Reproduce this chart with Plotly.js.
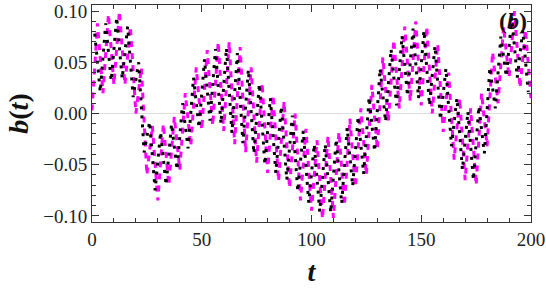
<!DOCTYPE html>
<html>
<head>
<meta charset="utf-8">
<script src="https://cdn.plot.ly/plotly-3.0.1.min.js"></script>
<style>html,body{margin:0;padding:0;background:#fff;}#chart{width:546px;height:294px;}</style>
</head>
<body>
<div id="chart"></div>
<script>
// magenta (dashed) series: extrema at t = 0, 2.5, 5, ... 200
const tMagenta = [0,2.5,5,7.5,10,12.5,15,17.5,20,22.5,25,27.5,30,32.5,35,37.5,40,42.5,45,47.5,50,52.5,55,57.5,60,62.5,65,67.5,70,72.5,75,77.5,80,82.5,85,87.5,90,92.5,95,97.5,100,102.5,105,107.5,110,112.5,115,117.5,120,122.5,125,127.5,130,132.5,135,137.5,140,142.5,145,147.5,150,152.5,155,157.5,160,162.5,165,167.5,170,172.5,175,177.5,180,182.5,185,187.5,190,192.5,195,197.5,200];
const bMagenta = [0.003,0.088,0.020,0.097,0.028,0.100,0.028,0.085,0.000,0.045,-0.060,-0.012,-0.085,-0.010,-0.070,-0.003,-0.055,0.020,-0.032,0.045,-0.016,0.062,-0.012,0.070,-0.017,0.070,-0.030,0.065,-0.038,0.045,-0.048,0.030,-0.058,0.018,-0.066,0.012,-0.073,0.000,-0.085,-0.015,-0.095,-0.026,-0.103,-0.022,-0.102,-0.018,-0.090,-0.005,-0.072,0.005,-0.060,0.028,-0.035,0.055,-0.008,0.072,0.005,0.085,0.012,0.090,0.008,0.085,0.000,0.068,-0.018,0.040,-0.045,0.015,-0.065,0.005,-0.070,0.020,-0.032,0.060,0.010,0.085,0.035,0.100,0.025,0.082,0.015];
// black (dotted) series: extrema at t = 1.25, 3.75, ... 198.75
const tBlack = [1.25,3.75,6.25,8.75,11.25,13.75,16.25,18.75,21.25,23.75,26.25,28.75,31.25,33.75,36.25,38.75,41.25,43.75,46.25,48.75,51.25,53.75,56.25,58.75,61.25,63.75,66.25,68.75,71.25,73.75,76.25,78.75,81.25,83.75,86.25,88.75,91.25,93.75,96.25,98.75,101.25,103.75,106.25,108.75,111.25,113.75,116.25,118.75,121.25,123.75,126.25,128.75,131.25,133.75,136.25,138.75,141.25,143.75,146.25,148.75,151.25,153.75,156.25,158.75,161.25,163.75,166.25,168.75,171.25,173.75,176.25,178.75,181.25,183.75,186.25,188.75,191.25,193.75,196.25,198.75];
const bBlack = [0.078,0.021,0.088,0.032,0.094,0.034,0.085,0.016,0.050,-0.038,-0.008,-0.075,-0.018,-0.070,-0.010,-0.055,0.010,-0.034,0.035,-0.014,0.053,-0.007,0.063,-0.010,0.064,-0.019,0.059,-0.029,0.043,-0.039,0.029,-0.050,0.015,-0.058,0.007,-0.065,-0.002,-0.076,-0.017,-0.087,-0.030,-0.096,-0.030,-0.097,-0.025,-0.088,-0.014,-0.071,-0.003,-0.059,0.016,-0.037,0.044,-0.008,0.063,0.008,0.076,0.017,0.083,0.015,0.081,0.008,0.066,-0.006,0.044,-0.032,0.015,-0.055,0.002,-0.065,0.007,-0.039,0.045,0.005,0.075,0.036,0.094,0.035,0.081,0.021];

const xTickVals = [0,50,100,150,200];
const yTickVals = [-0.10,-0.05,0.00,0.05,0.10];

const serif = "Liberation Serif, DejaVu Serif, serif";

const traces = [
  {x: tMagenta, y: bMagenta, type: 'scatter', mode: 'lines',
   line: {color: '#ff00ff', width: 3, dash: '6px,6px'}, hoverinfo: 'skip'},
  {x: tBlack, y: bBlack, type: 'scatter', mode: 'lines',
   line: {color: '#000000', width: 3, dash: '3px,6px'}, hoverinfo: 'skip'}
];

const axisCommon = {
  showline: true, linecolor: '#333', linewidth: 1, mirror: 'ticks',
  ticks: 'inside', ticklen: 7, tickcolor: '#333', tickwidth: 1,
  showgrid: false,
  tickfont: {family: serif, size: 19, color: '#222'}
};

const layout = {
  width: 546, height: 294,
  margin: {l: 92, r: 15, t: 5, b: 72},
  paper_bgcolor: '#fff', plot_bgcolor: '#fff',
  showlegend: false,
  xaxis: Object.assign({}, axisCommon, {
    range: [0, 200], tickvals: xTickVals, ticktext: xTickVals.map(String),
    zeroline: false,
    minor: {dtick: 10, tick0: 0, ticks: 'inside', ticklen: 4, tickcolor: '#333', showgrid: false},
    title: {text: '<b><i>t</i></b>', font: {family: serif, size: 28, color: '#111'}, standoff: 12}
  }),
  yaxis: Object.assign({}, axisCommon, {
    range: [-0.106, 0.106], tickvals: yTickVals, tickformat: '.2f',
    zeroline: true, zerolinecolor: '#dddddd', zerolinewidth: 1,
    minor: {dtick: 0.01, tick0: 0, ticks: 'inside', ticklen: 4, tickcolor: '#333', showgrid: false},
    title: {text: '<b><i>b</i>(<i>t</i>)</b>', font: {family: serif, size: 28, color: '#111'}, standoff: 6}
  }),
  annotations: [{
    xref: 'paper', yref: 'paper', x: 0.995, y: 0.995, xanchor: 'right', yanchor: 'top',
    text: '<b>(<i>b</i>)</b>', showarrow: false,
    font: {family: serif, size: 24, color: '#111'}
  }]
};

Plotly.newPlot('chart', traces, layout, {staticPlot: true, displayModeBar: false});
</script>
</body>
</html>
